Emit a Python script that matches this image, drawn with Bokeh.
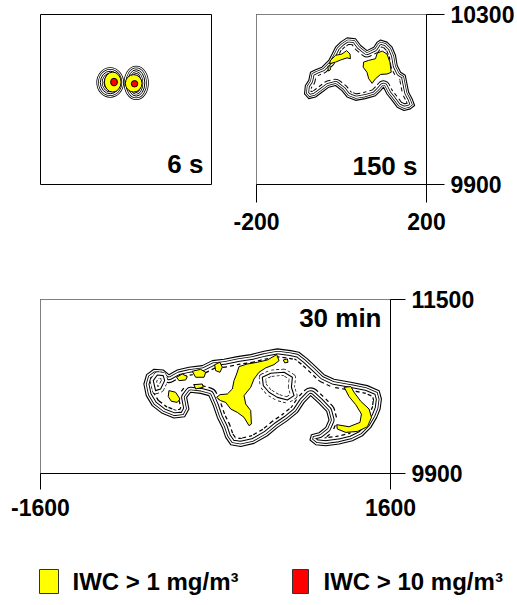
from bokeh.plotting import figure
from bokeh.layouts import column, row
from bokeh.models import Range1d, FixedTicker, LinearAxis, Label
from bokeh.core.properties import value
from bokeh.embed import file_html
from bokeh.resources import INLINE

FONT = "Liberation Sans"

# ---------------- data ----------------
panel_labels = ["6 s", "150 s", "30 min"]
legend_labels = ["IWC > 1 mg/m³", "IWC > 10 mg/m³"]
legend_colors = ["#ffff00", "#ff0000"]

x_ticks_150 = [-200, 200]
y_ticks_150 = [9900, 10300]
x_ticks_30 = [-1600, 1600]
y_ticks_30 = [9900, 11500]

# 6 s : two young cells (ellipse contours)
cell6_x = [-37, 24]
cell6_y = [10140, 10139]
cell6_w = [46, 40]
cell6_h = [53, 62]
yel6_x = [-31, 18]
yel6_y = [10141, 10138]
yel6_w = [39, 39]
yel6_h = [47, 41]
red6_x = [-28, 20]
red6_y = [10141, 10137]
red6_w = [16, 15]
red6_h = [18, 15]

# 150 s : outer contour
out150_x = [-87, -85, -77, -73, -61, -46, -30, -22, -14, -2, 13, 33, 45, 60, 76, 84, 92,
            107, 119, 127, 131, 139, 150, 154, 158, 166, 172, 162, 147, 131, 119, 107, 99,
            92, 80, 56, 33, 13, 1, -14, -30, -46, -61, -77]
out150_y = [10113, 10133, 10145, 10164, 10170, 10176, 10192, 10207, 10223, 10235, 10245,
            10243, 10227, 10215, 10223, 10235, 10240, 10235, 10223, 10204, 10180, 10164,
            10157, 10137, 10117, 10102, 10086, 10078, 10074, 10082, 10098, 10113, 10129,
            10121, 10109, 10102, 10098, 10106, 10121, 10133, 10129, 10117, 10106, 10102]
yel150_x = [
    [-26, -14, 1, 12, 20, 21, 13, -2, -14, -28],
    [52, 64, 80, 84, 96, 107, 114, 117, 107, 92, 80, 72, 64, 60, 51],
    [-32, -27, -26, -31],
]
yel150_y = [
    [10192, 10204, 10207, 10215, 10207, 10196, 10198, 10193, 10188, 10184],
    [10188, 10192, 10196, 10209, 10214, 10207, 10188, 10164, 10160, 10159, 10149, 10138,
     10149, 10164, 10176],
    [10178, 10180, 10170, 10167],
]

# 30 min : outer contour
out30_x = [-655, -630, -563, -478, -426, -350, -243, -121, -29, 78, 200, 322, 444, 566, 688,
           763, 840, 916, 993, 1084, 1237, 1389, 1496, 1517, 1505, 1474, 1420, 1343, 1252,
           1130, 1008, 916, 864, 877, 947, 1008, 1038, 1017, 947, 870, 810, 749, 657, 566,
           474, 352, 230, 139, 93, 62, 17, -20, -60, -136, -228, -264, -243, -282, -380,
           -487, -578, -633]
out30_y = [10723, 10809, 10858, 10852, 10809, 10852, 10877, 10892, 10938, 10950, 10975,
           10993, 11024, 11046, 11030, 11015, 10954, 10883, 10809, 10766, 10739, 10708,
           10662, 10585, 10493, 10416, 10324, 10247, 10201, 10171, 10155, 10165, 10208,
           10257, 10275, 10324, 10392, 10472, 10545, 10616, 10554, 10462, 10386, 10324,
           10247, 10177, 10149, 10165, 10232, 10324, 10416, 10524, 10616, 10637, 10647,
           10600, 10493, 10422, 10410, 10453, 10524, 10616]
# 30 min : inner low-value loops
hole30_x = [
    [428, 505, 627, 703, 694, 718, 657, 566, 489, 437],
    [-569, -532, -478, -465, -502, -548],
]
hole30_y = [
    [10785, 10822, 10831, 10785, 10693, 10616, 10576, 10600, 10647, 10708],
    [10754, 10806, 10800, 10754, 10677, 10662],
]
# 30 min : IWC > 1 mg/m3
yel30_x = [
    [215, 291, 383, 474, 559, 581, 535, 459, 398, 352, 322, 261, 276, 322, 328, 306, 261,
     200, 139, 93, 47, 10, 41, 108, 154, 169, 193],
    [1176, 1237, 1267, 1328, 1404, 1426, 1389, 1298, 1191, 1114, 1108, 1221, 1321, 1334,
     1282, 1221],
    [-426, -365, -325, -350, -404, -432],
    [-356, -304, -258, -273, -334],
    [-212, -136, -90, -105, -182],
    [-197, -121, -112, -182],
    [-8, 41, 62, 41, 1],
    [620, 657, 663, 633],
]
yel30_y = [
    [10883, 10907, 10923, 10944, 10993, 10938, 10901, 10871, 10831, 10769, 10693, 10616,
     10539, 10478, 10355, 10340, 10416, 10462, 10493, 10554, 10570, 10600, 10625, 10631,
     10677, 10754, 10815],
    [10693, 10699, 10647, 10564, 10493, 10416, 10330, 10287, 10278, 10309, 10349, 10330,
     10370, 10447, 10533, 10607],
    [10662, 10647, 10585, 10554, 10564, 10607],
    [10785, 10815, 10791, 10760, 10754],
    [10840, 10858, 10831, 10785, 10785],
    [10717, 10723, 10693, 10677],
    [10901, 10923, 10877, 10831, 10846],
    [10944, 10954, 10923, 10917],
]

# ---------------- styling helpers ----------------
RINGS = [("black", 17, "4 3"), ("white", 14.5, "solid"), ("black", 11, "solid"),
         ("white", 9, "solid"), ("black", 5.5, "solid"), ("white", 3.8, "solid")]
HOLE_RINGS = [("black", 7, "3 2"), ("white", 5.6, "solid"), ("black", 1.1, "solid")]


def make_fig(w, h, xr, yr, bl, br, bt, bb):
    p = figure(width=w, height=h, x_range=Range1d(*xr), y_range=Range1d(*yr),
               output_backend="svg", toolbar_location=None,
               x_axis_location=None, y_axis_location=None,
               min_border_left=bl, min_border_right=br,
               min_border_top=bt, min_border_bottom=bb)
    for g in p.grid:
        g.visible = False
    p.outline_line_color = "black"
    p.outline_line_width = 1
    p.background_fill_color = "white"
    p.border_fill_color = "white"
    return p


def add_axes(p, xt, yt, tick_x, tick_y, standoff_x):
    xa = LinearAxis(ticker=FixedTicker(ticks=xt),
                    major_label_overrides={t: str(t) for t in xt})
    ya = LinearAxis(ticker=FixedTicker(ticks=yt),
                    major_label_overrides={t: str(t) for t in yt})
    for ax, tl, so in ((xa, tick_x, standoff_x), (ya, tick_y, 6)):
        ax.axis_line_color = "black"
        ax.major_tick_line_color = "black"
        ax.major_tick_in = 0
        ax.major_tick_out = tl
        ax.minor_tick_line_color = None
        ax.major_label_text_font = FONT
        ax.major_label_text_font_style = "bold"
        ax.major_label_text_font_size = "23px"
        ax.major_label_text_color = "black"
        ax.major_label_standoff = so
    p.add_layout(xa, "below")
    p.add_layout(ya, "right")


def cloud(p, xs, ys, xr, yr, s=1.0):
    for color, w, dash in RINGS:
        p.patch(xs, ys, fill_color=None, line_color=color, line_width=w * s,
                line_dash=dash, line_join="round")
    bx = [xr[0] - 1e5, xr[1] + 1e5, xr[1] + 1e5, xr[0] - 1e5]
    by = [yr[0] - 1e5, yr[0] - 1e5, yr[1] + 1e5, yr[1] + 1e5]
    p.multi_polygons(xs=[[[bx, xs]]], ys=[[[by, ys]]], fill_color="white", line_color=None)
    p.patch(xs, ys, fill_color=None, line_color="black", line_width=1.1, line_join="round")


def panel_label(p, text, x, y, xo, yo):
    p.add_layout(Label(x=x, y=y, x_offset=xo, y_offset=yo, text=text,
                       text_align="right", text_baseline="alphabetic",
                       text_font=FONT, text_font_style="bold",
                       text_font_size="26px", text_color="black"))


# ---------------- 6 s ----------------
xr150 = (-200, 200)
yr150 = (9900, 10300)
pA = make_fig(228, 240, xr150, yr150, 40, 17, 14, 56)
for color, w in [("black", 8), ("white", 6.4), ("black", 4.4), ("white", 3), ("black", 1)]:
    pA.ellipse(x=cell6_x, y=cell6_y, width=cell6_w, height=cell6_h,
               fill_color=None, line_color=color, line_width=w)
pA.ellipse(x=yel6_x, y=yel6_y, width=yel6_w, height=yel6_h,
           fill_color=legend_colors[0], line_color="black", line_width=1)
pA.ellipse(x=red6_x, y=red6_y, width=red6_w, height=red6_h,
           fill_color=legend_colors[1], line_color="black", line_width=1)
panel_label(pA, panel_labels[0], xr150[1], yr150[0], -8, 21)

# ---------------- 150 s ----------------
pB = make_fig(289, 240, xr150, yr150, 28, 91, 14, 56)
cloud(pB, out150_x, out150_y, xr150, yr150, s=0.8)
pB.patches(yel150_x, yel150_y, fill_color=legend_colors[0], line_color="black", line_width=1)
add_axes(pB, x_ticks_150, y_ticks_150, 18, 18, 10)
panel_label(pB, panel_labels[1], xr150[1], yr150[0], -9, 19)

# ---------------- 30 min ----------------
xr30 = (-1600, 1600)
yr30 = (9900, 11500)
pC = make_fig(517, 289, xr30, yr30, 40, 127, 59, 56)
cloud(pC, out30_x, out30_y, xr30, yr30, s=1.0)
for color, w, dash in HOLE_RINGS:
    pC.patches(hole30_x, hole30_y, fill_color=None, line_color=color, line_width=w,
               line_dash=dash, line_join="round")
pC.patches(yel30_x, yel30_y, fill_color=legend_colors[0], line_color="black", line_width=1)
add_axes(pC, x_ticks_30, y_ticks_30, 16, 15, 9)
panel_label(pC, panel_labels[2], xr30[1], yr30[1], -9, -18)

# ---------------- legend ----------------
pL = figure(width=517, height=68, x_range=Range1d(0, 517), y_range=Range1d(0, 68),
            output_backend="svg", toolbar_location=None,
            x_axis_location=None, y_axis_location=None,
            min_border_left=0, min_border_right=0, min_border_top=0, min_border_bottom=0)
for g in pL.grid:
    g.visible = False
pL.outline_line_color = None
pL.quad(left=[39, 292], right=[58, 308], bottom=[4, 4], top=[28, 28],
        fill_color=legend_colors, line_color="#333333", line_width=1)
pL.text(x=[72, 323], y=[16, 16], text=legend_labels, text_font=value(FONT),
        text_font_style="bold", text_font_size="24px", text_baseline="alphabetic",
        text_color="black")

layout = column(row(pA, pB), pC, row(pL))
open("out.html", "w").write(file_html(layout, INLINE))
